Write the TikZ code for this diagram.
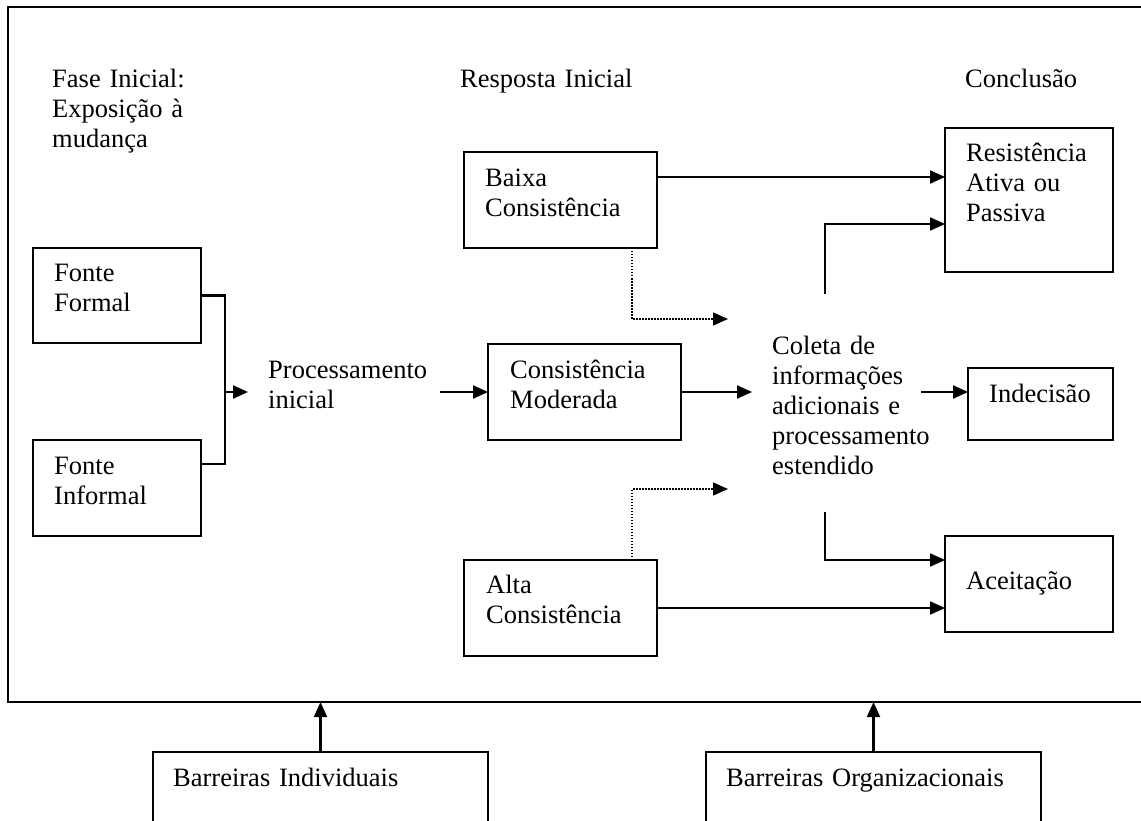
\documentclass[tikz,border=0pt]{standalone}
\usepackage{fontspec}
\setmainfont{Liberation Serif}
\usetikzlibrary{arrows.meta,calc}

\tikzset{
  txt/.style={font=\fontsize{26.5}{30}\selectfont, inner sep=0pt, anchor=base west,
              text width=420pt, align=left},
  box/.style={draw, line width=2.2pt, inner sep=0pt, outer sep=0pt, anchor=north west},
  conn/.style={line width=2.1pt},
  arr/.style={conn, -{Triangle[length=15pt,width=13pt]}},
  dotarr/.style={line width=1.5pt, dash pattern=on 1.5pt off 1.5pt,
                 -{Triangle[length=15pt,width=13pt]}},
}

\begin{document}
\begin{tikzpicture}[x=1pt,y=-1pt]
\clip (0,0) rectangle (1141,821);
\fill[white] (0,0) rectangle (1141,821);

% outer frame (open on the right)
\coordinate (frTR) at (1150,7);
\coordinate (frTL) at (8,7);
\coordinate (frBL) at (8,702);
\coordinate (frBR) at (1150,702);
\draw[line width=2.2pt] (frTR) -- (frTL) -- (frBL) -- (frBR);

% column headings
\node[txt] (fase)  at (52,88)  {Fase Inicial:\\Exposição à\\mudança};
\node[txt] (resp)  at (460,88) {Resposta Inicial};
\node[txt] (concl) at (965,88) {Conclusão};

% boxes
\node[box, minimum width=168pt, minimum height=95pt]  (ff)  at (33,248)  {};
\node[box, minimum width=168pt, minimum height=96pt]  (fi)  at (33,440)  {};
\node[box, minimum width=193pt, minimum height=96pt]  (bx)  at (464,152) {};
\node[box, minimum width=193pt, minimum height=96pt]  (md)  at (488,344) {};
\node[box, minimum width=193pt, minimum height=96pt]  (al)  at (464,560) {};
\node[box, minimum width=168pt, minimum height=144pt] (rs)  at (945,128) {};
\node[box, minimum width=145pt, minimum height=72pt]  (ind) at (968,368) {};
\node[box, minimum width=168pt, minimum height=96pt]  (ac)  at (945,536) {};
\node[box, minimum width=335pt, minimum height=100pt] (bi)  at (153,752) {};
\node[box, minimum width=335pt, minimum height=100pt] (bo)  at (706,752) {};

% box labels
\node[txt] (ffT)  at (54,282)  {Fonte\\Formal};
\node[txt] (fiT)  at (54,474)  {Fonte\\Informal};
\node[txt] (bxT)  at (485,187) {Baixa\\Consistência};
\node[txt] (mdT)  at (510,378) {Consistência\\Moderada};
\node[txt] (alT)  at (486,593) {Alta\\Consistência};
\node[txt] (rsT)  at (966,162) {Resistência\\Ativa ou\\Passiva};
\node[txt] (indT) at (989,402) {Indecisão};
\node[txt] (acT)  at (966,589) {Aceitação};
\node[txt] (biT)  at (173,786) {Barreiras Individuais};
\node[txt] (boT)  at (726,786) {Barreiras Organizacionais};

% free-standing texts
\node[txt] (proc) at (268,378) {Processamento\\inicial};
\node[txt] (col)  at (772,354) {Coleta de\\informações\\adicionais e\\processamento\\estendido};

% anchor points around the free texts
\coordinate (jn)      at (225,392);
\coordinate (procIn)  at (248,392);
\coordinate (procOut) at (440,392);
\coordinate (colIn)   at (752,392);
\coordinate (colOut)  at (921,392);
\coordinate (colUp)   at (825,294);
\coordinate (colUpT)  at (825,224);
\coordinate (colDn)   at (825,512);
\coordinate (colDnT)  at (825,560);
\coordinate (dBx)     at (728,319);
\coordinate (dAl)     at (728,489);
\coordinate (fiOut)   at (201,464);

% sources joined into the initial processing
\draw[conn] (ff.east) -| (jn) |- (fiOut);
\draw[arr] (jn) -- (procIn);
\draw[arr] (procOut) -- (procOut -| md.west);
\draw[arr] (md.east) -- (colIn);
\draw[arr] (colOut) -- (colOut -| ind.west);

% direct outcomes
\draw[arr] ($(bx.north east)+(0,25)$) coordinate (bxOut) -- (bxOut -| rs.west);
\draw[arr] (al.east) -- (al.east -| ac.west);

% outcomes of the extended processing
\draw[arr] (colUp) -- (colUpT) -- (colUpT -| rs.west);
\draw[arr] (colDn) -- (colDnT) -- (colDnT -| ac.west);

% weak links into the extended processing
\draw[dotarr] ($(bx.south east)+(-25,0)$) |- (dBx);
\draw[dotarr] ($(al.north east)+(-25,0)$) |- (dAl);

% barriers acting on the whole process
\draw[arr] (bi.north) -- (bi.north |- frBL);
\draw[arr] (bo.north) -- (bo.north |- frBL);
\end{tikzpicture}
\end{document}
